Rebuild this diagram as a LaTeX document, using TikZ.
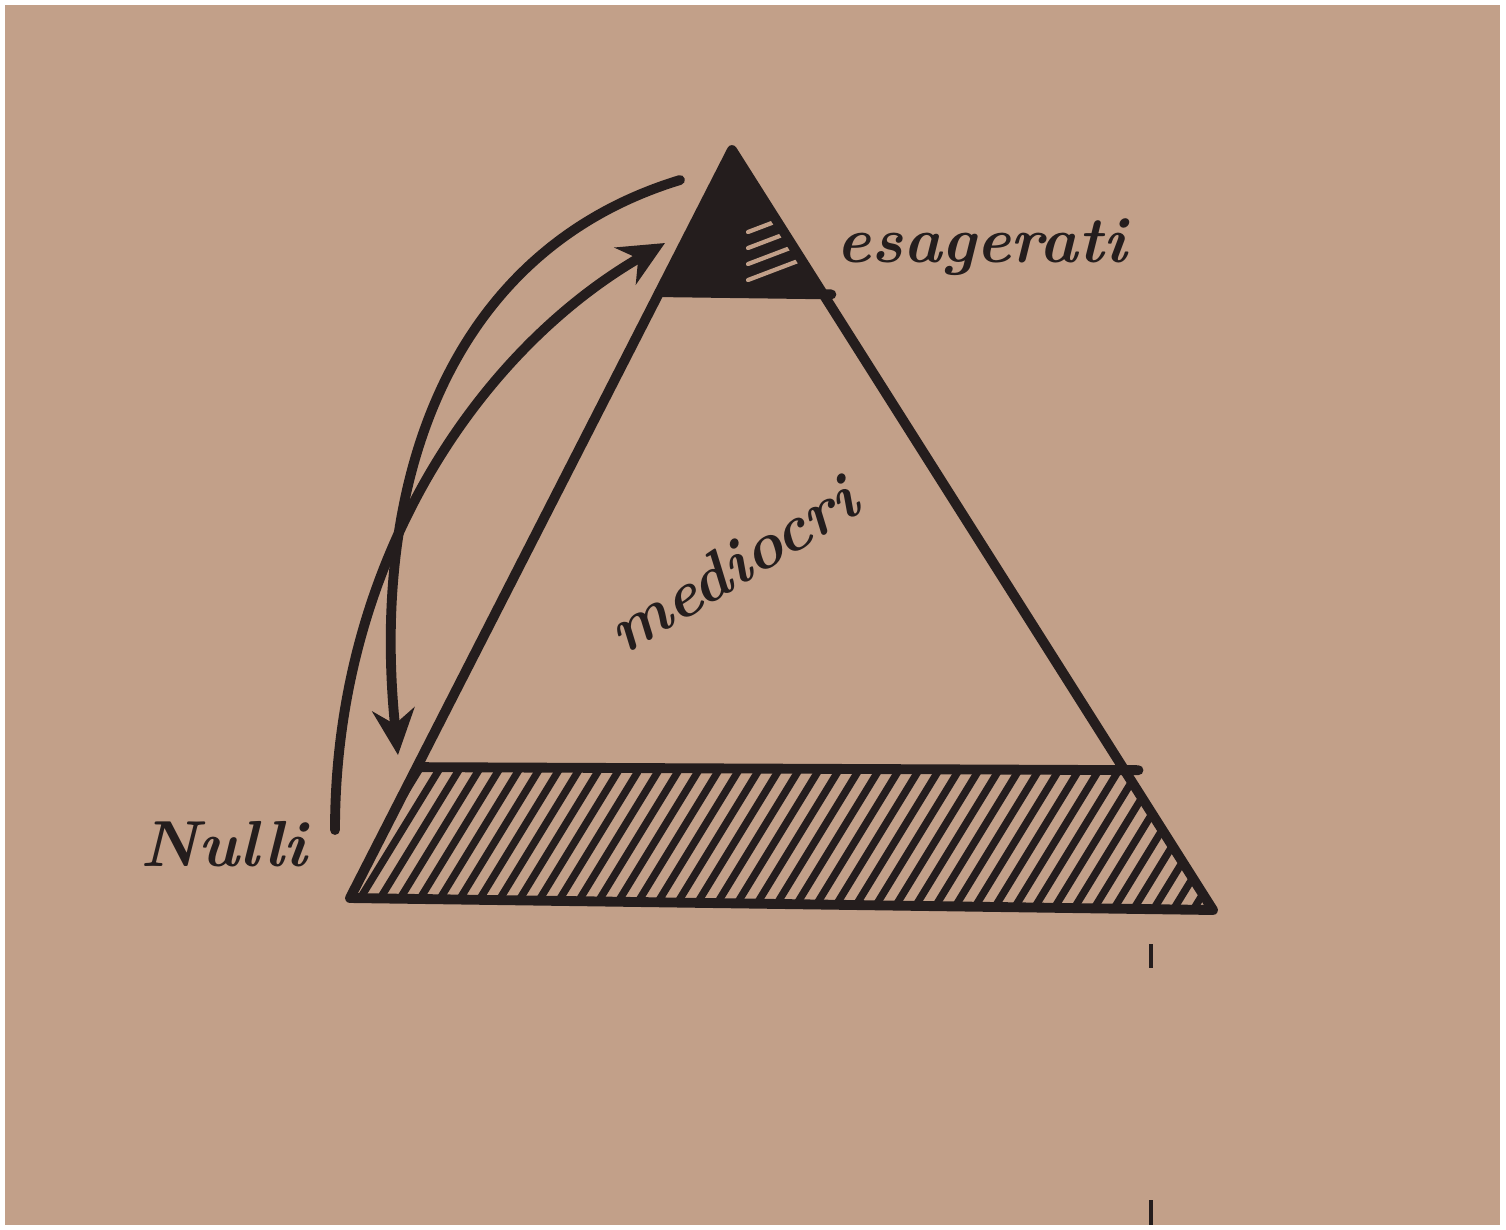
\documentclass[tikz,border=0pt]{standalone}
\usepackage{tikz}
\usetikzlibrary{arrows.meta,calc}
\definecolor{KraftPaper}{RGB}{194,160,137}
\definecolor{InkBlack}{RGB}{36,29,29}

\begin{document}
\begin{tikzpicture}[x=0.01cm,y=-0.01cm,>={Stealth[length=13pt,width=12pt]},
    ink/.style={InkBlack,line width=2.8pt,line cap=round,line join=round},
    hatch/.style={InkBlack,line width=2.1pt,line cap=round},
    gap/.style={KraftPaper,line width=1.2pt,line cap=round},
    word/.style={InkBlack,font=\fontsize{18.5}{22}\selectfont\bfseries\itshape,inner sep=0pt}]
  \useasboundingbox (0,0) rectangle (1506,1229);
  \fill[white] (0,0) rectangle (1506,1229);
  \fill[KraftPaper] (5,5) rectangle (1500,1225);
  \coordinate (apex) at (732,150);
  \coordinate (bl) at (350,898);
  \coordinate (br) at (1213,910);
  \coordinate (capL) at ($(apex)!0.19!(bl)$);
  \coordinate (capR) at ($(apex)!0.19!(br)$);
  \coordinate (bandL) at ($(apex)!0.825!(bl)$);
  \coordinate (bandR) at ($(apex)!0.816!(br)$);
  \fill[InkBlack] (apex) -- (capL) -- (capR) -- cycle;
  \begin{scope}
    \clip (apex) -- (capL) -- (capR) -- cycle;
    \foreach \y in {222,238,254,270}{
      \draw[gap] (748,\y+10) -- ++(50,-19);}
  \end{scope}
  \begin{scope}
    \clip (bandL) -- (bandR) -- (br) -- (bl) -- cycle;
    \foreach \x in {270,290,...,1240}{
      \draw[hatch] (\x,915) -- ++(95,-155);}
  \end{scope}
  \draw[ink] (bl) -- (apex) -- (br) -- cycle;
  \draw[ink] (capL) -- ($(capR)+(8,0)$);
  \draw[ink] (bandL) -- ($(bandR)+(14,0)$);
  \coordinate (upTail) at (335,830);
  \coordinate (upHead) at (665,243);
  \coordinate (downTail) at (680,180);
  \coordinate (downHead) at (398,755);
  \draw[ink,->] (upTail) .. controls (335,560) and (480,350) .. (upHead);
  \draw[ink,->] (downTail) .. controls (450,250) and (370,480) .. (downHead);
  \node[word,anchor=base west] (esag) at (836,262) {esagerati};
  \node[word,anchor=base west,rotate=31] (medi) at (624,656) {mediocri};
  \node[word,anchor=base west] (nulli) at (140,866) {Nulli};
  \draw[InkBlack,line width=1.4pt] (1151,944) -- (1151,968);
  \draw[InkBlack,line width=1.4pt] (1151,1200) -- (1151,1225);
\end{tikzpicture}
\end{document}
